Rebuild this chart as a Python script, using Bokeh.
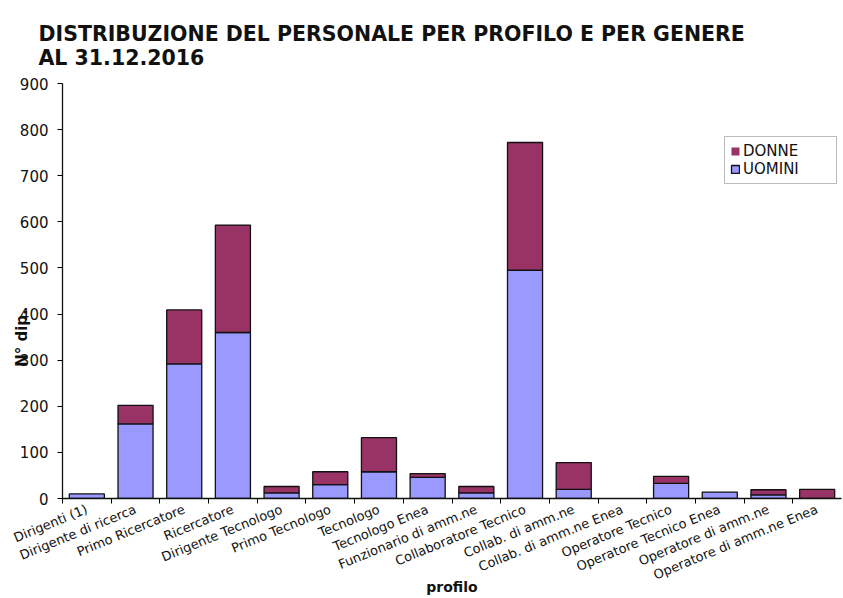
from bokeh.plotting import figure
from bokeh.models import ColumnDataSource, FixedTicker, Legend, LegendItem, Range1d, Title
from bokeh.embed import file_html
from bokeh.resources import INLINE

profili = ["Dirigenti (1)", "Dirigente di ricerca", "Primo Ricercatore", "Ricercatore",
           "Dirigente Tecnologo", "Primo Tecnologo", "Tecnologo", "Tecnologo Enea",
           "Funzionario di amm.ne", "Collaboratore Tecnico", "Collab. di amm.ne",
           "Collab. di amm.ne Enea", "Operatore Tecnico", "Operatore Tecnico Enea",
           "Operatore di amm.ne", "Operatore di amm.ne Enea"]
uomini = [10, 162, 292, 360, 12, 30, 58, 46, 12, 495, 20, 0, 33, 14, 8, 0]
donne = [0, 40, 117, 233, 14, 28, 74, 8, 14, 277, 58, 0, 15, 0, 11, 20]
y_ticks = [0, 100, 200, 300, 400, 500, 600, 700, 800, 900]

FONT = "DejaVu Sans"
idx = list(range(len(profili)))
tot = [u + d for u, d in zip(uomini, donne)]
src = ColumnDataSource(dict(x=idx, u=uomini, t=tot,
                            ua=[1.0 if u > 0 else 0.0 for u in uomini],
                            da=[1.0 if d > 0 else 0.0 for d in donne]))

p = figure(width=843, height=598, output_backend="svg", toolbar_location=None,
           x_range=Range1d(-0.5, len(profili) - 0.5), y_range=Range1d(0, 900),
           min_border_left=62, min_border_right=2, min_border_top=83, min_border_bottom=99)
p.title = None
p.add_layout(Title(text="DISTRIBUZIONE DEL PERSONALE PER PROFILO E PER GENERE\nAL 31.12.2016",
                   text_font=FONT, text_font_size="20.5px", text_font_style="bold",
                   text_color="#111111", text_line_height=1.0, offset=-24, standoff=26,
                   vertical_align="middle"), "above")

r_u = p.vbar(x="x", bottom=0, top="u", width=0.72, source=src,
             fill_color="#9999FF", line_color="#111111", line_width=1.3, line_alpha="ua")
r_d = p.vbar(x="x", bottom="u", top="t", width=0.72, source=src,
             fill_color="#993366", line_color="#111111", line_width=1.3, line_alpha="da")

p.xgrid.grid_line_color = None
p.ygrid.grid_line_color = None
p.outline_line_color = None

xa = p.xaxis[0]
xa.ticker = FixedTicker(ticks=idx, minor_ticks=[i + 0.5 for i in idx[:-1]] + [-0.5])
xa.major_label_overrides = {i: name for i, name in enumerate(profili)}
xa.major_label_orientation = 0.39
xa.major_label_text_font = FONT
xa.major_label_text_font_size = "13px"
xa.major_label_text_color = "#111111"
xa.major_tick_out = 0
xa.major_tick_in = 0
xa.minor_tick_out = 5
xa.minor_tick_in = 0
xa.axis_line_color = "#111111"
xa.axis_line_width = 1.3
xa.major_label_standoff = 5
xa.axis_label = "profilo"
xa.axis_label_text_font = FONT
xa.axis_label_text_font_size = "14px"
xa.axis_label_text_font_style = "bold"
xa.axis_label_text_color = "#111111"
xa.axis_label_standoff = -13

ya = p.yaxis[0]
ya.ticker = FixedTicker(ticks=y_ticks)
ya.major_label_text_font = FONT
ya.major_label_text_font_size = "15px"
ya.major_label_text_color = "#111111"
ya.major_tick_out = 5
ya.major_tick_in = 0
ya.minor_tick_line_color = None
ya.axis_line_color = "#111111"
ya.axis_line_width = 1.3
ya.major_label_standoff = 9
ya.axis_label = "N° dip." + "\u00a0" * 18
ya.axis_label_text_font = FONT
ya.axis_label_text_font_size = "15px"
ya.axis_label_text_font_style = "bold"
ya.axis_label_text_color = "#111111"
ya.axis_label_standoff = -14

legend = Legend(items=[LegendItem(label="DONNE", renderers=[r_d]),
                       LegendItem(label="UOMINI", renderers=[r_u])],
                location=(662, 314), label_text_font=FONT, label_text_font_size="15px",
                label_text_color="#111111",
                glyph_width=10, glyph_height=10, label_height=16, spacing=0, padding=5,
                border_line_color="#777777", border_line_width=1.2, margin=0,
                label_standoff=3, label_width=88)
p.add_layout(legend)

open("out.html", "w").write(file_html(p, INLINE))
